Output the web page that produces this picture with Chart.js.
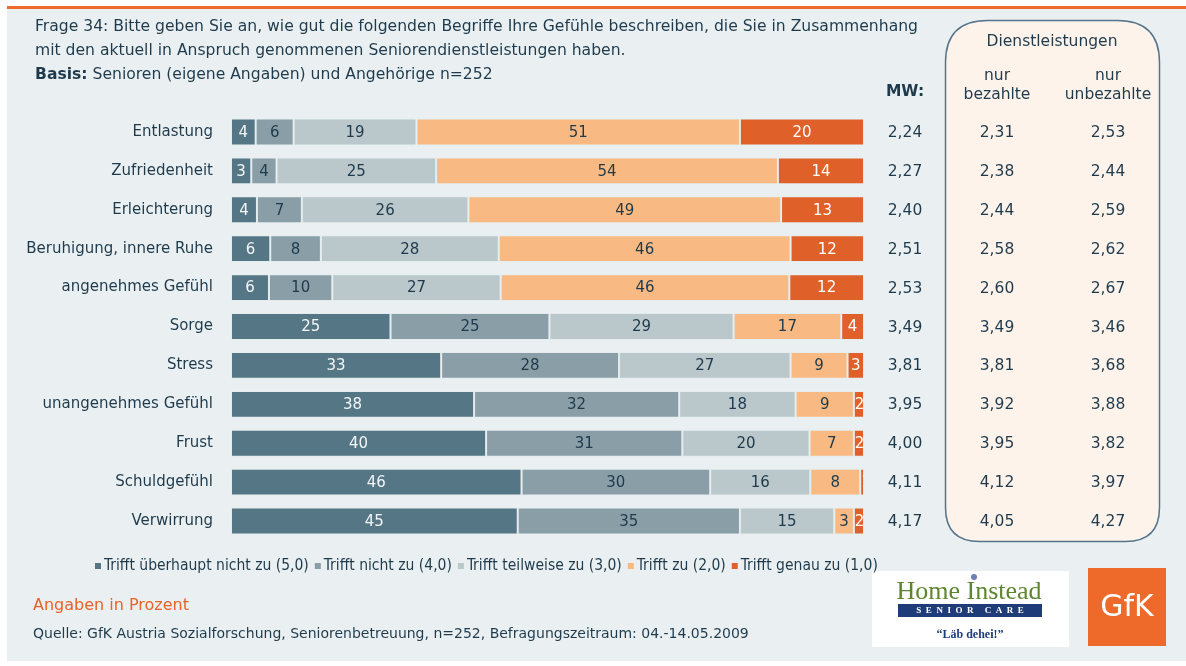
<!DOCTYPE html>
<html>
<head>
<meta charset="utf-8">
<script src="https://cdn.jsdelivr.net/npm/chart.js@4.4.1/dist/chart.umd.min.js"></script>
<style>
html,body{margin:0;padding:0;background:#fff;}
canvas{display:block;}
</style>
</head>
<body>
<canvas id="c" width="1186" height="666"></canvas>
<script>
// ---------- DATA ----------
const categories = ["Entlastung","Zufriedenheit","Erleichterung","Beruhigung, innere Ruhe","angenehmes Gefühl","Sorge","Stress","unangenehmes Gefühl","Frust","Schuldgefühl","Verwirrung"];
const seriesNames = ["Trifft überhaupt nicht zu (5,0)","Trifft nicht zu (4,0)","Trifft teilweise zu (3,0)","Trifft zu (2,0)","Trifft genau zu (1,0)"];
const s5 = [3.9,3.2,4.1,6.2,6.0,25.2,33.2,38.4,40.3,45.9,45.3];
const s4 = [6.0,4.0,7.1,8.0,10.0,25.1,28.1,32.4,31.0,29.8,35.1];
const s3 = [19.4,25.2,26.3,28.1,26.6,29.1,27.1,18.4,20.1,15.8,14.9];
const s2 = [51.1,54.0,49.4,46.1,45.6,17.0,9.0,9.2,7.0,7.9,3.1];
const s1 = [19.6,13.6,13.1,11.6,11.8,3.6,2.6,1.6,1.6,0.6,1.6];
const mw = [2.24,2.27,2.40,2.51,2.53,3.49,3.81,3.95,4.00,4.11,4.17];
const mwBezahlt = [2.31,2.38,2.44,2.58,2.60,3.49,3.81,3.92,3.95,4.12,4.05];
const mwUnbezahlt = [2.53,2.44,2.59,2.62,2.67,3.46,3.68,3.88,3.82,3.97,4.27];

// ---------- STYLE ----------
const colors = ["#557785","#8A9EA7","#BAC7CB","#F8BA82","#E0602A"];
const labelColors = ["#F2F6F7","#1E3A4C","#1E3A4C","#1E3A4C","#FFFFFF"];
const TXT = "#1E3A4C";
const FONT = "'DejaVu Sans', Verdana, sans-serif";
const FONT_C = "'DejaVu Sans Condensed', 'Liberation Sans Narrow', sans-serif";
const fmt = v => v.toFixed(2).replace('.', ',');

function roundRect(ctx, x, y, w, h, rt, rb) {
  ctx.beginPath();
  ctx.moveTo(x + rt, y);
  ctx.lineTo(x + w - rt, y);
  ctx.quadraticCurveTo(x + w, y, x + w, y + rt);
  ctx.lineTo(x + w, y + h - rb);
  ctx.quadraticCurveTo(x + w, y + h, x + w - rb, y + h);
  ctx.lineTo(x + rb, y + h);
  ctx.quadraticCurveTo(x, y + h, x, y + h - rb);
  ctx.lineTo(x, y + rt);
  ctx.quadraticCurveTo(x, y, x + rt, y);
  ctx.closePath();
}

const backdrop = {
  id: 'backdrop',
  beforeDraw(chart) {
    const ctx = chart.ctx;
    ctx.save();
    ctx.fillStyle = '#FFFFFF';
    ctx.fillRect(0, 0, 1186, 666);
    ctx.fillStyle = '#EAF0F1';
    ctx.fillRect(7, 9, 1179, 652);
    ctx.fillStyle = '#EE6B2D';
    ctx.fillRect(7, 6, 1179, 3);
    // panel
    roundRect(ctx, 945.5, 20.5, 214, 521, 42, 34);
    ctx.fillStyle = '#FDF3EA';
    ctx.fill();
    ctx.lineWidth = 1.5;
    ctx.strokeStyle = '#56748C';
    ctx.stroke();
    ctx.restore();
  }
};

const segLabels = {
  id: 'segLabels',
  afterDatasetsDraw(chart) {
    const ctx = chart.ctx;
    ctx.save();
    ctx.font = "15px " + FONT;
    ctx.textAlign = 'center';
    ctx.textBaseline = 'middle';
    chart.data.datasets.forEach((ds, i) => {
      const meta = chart.getDatasetMeta(i);
      meta.data.forEach((bar, j) => {
        const p = bar.getProps(['x', 'base', 'y', 'height'], true);
        const l = Math.min(p.x, p.base), r = Math.max(p.x, p.base);
        ctx.save();
        ctx.beginPath();
        ctx.rect(l + 1, p.y - p.height / 2, r - l - 1, p.height);
        ctx.clip();
        ctx.fillStyle = labelColors[i];
        const txt = String(Math.round(ds.data[j]));
        let cx = (l + r) / 2;
        const w = ctx.measureText(txt).width;
        if (w > r - l - 2) cx = l + 1 + w / 2;
        ctx.fillText(txt, cx, p.y + 1);
        ctx.restore();
      });
    });
    ctx.restore();
  }
};

const extras = {
  id: 'extras',
  afterDraw(chart) {
    const ctx = chart.ctx;
    const yScale = chart.scales.y;
    ctx.save();
    ctx.fillStyle = TXT;
    ctx.textBaseline = 'middle';
    // title
    ctx.textAlign = 'left';
    ctx.font = "15.6px " + FONT;
    ctx.fillText("Frage 34: Bitte geben Sie an, wie gut die folgenden Begriffe Ihre Gefühle beschreiben, die Sie in Zusammenhang", 35, 27);
    ctx.fillText("mit den aktuell in Anspruch genommenen Seniorendienstleistungen haben.", 35, 51);
    ctx.font = "bold 15.6px " + FONT;
    ctx.fillText("Basis:", 35, 75);
    const bw = ctx.measureText("Basis:").width;
    ctx.font = "15.6px " + FONT;
    ctx.fillText(" Senioren (eigene Angaben) und Angehörige n=252", 35 + bw, 75);
    // MW header
    ctx.textAlign = 'center';
    ctx.font = "bold 15.5px " + FONT;
    ctx.fillText("MW:", 905, 92);
    ctx.font = "15.5px " + FONT;
    ctx.fillText("Dienstleistungen", 1052, 42);
    ctx.fillText("nur", 997, 76);
    ctx.fillText("bezahlte", 997, 95);
    ctx.fillText("nur", 1108, 76);
    ctx.fillText("unbezahlte", 1108, 95);
    // values per row
    categories.forEach((c, i) => {
      const y = yScale.getPixelForValue(i) + 1;
      ctx.fillText(fmt(mw[i]), 905, y);
      ctx.fillText(fmt(mwBezahlt[i]), 997, y);
      ctx.fillText(fmt(mwUnbezahlt[i]), 1108, y);
    });
    // Home Instead logo
    ctx.fillStyle = '#FFFFFF';
    ctx.fillRect(872, 571, 197, 76);
    ctx.textAlign = 'center';
    ctx.fillStyle = '#5E8530';
    ctx.font = "26px 'Liberation Serif', serif";
    ctx.fillText("Home Instead", 969, 592);
    ctx.fillStyle = '#6A7FB8';
    ctx.beginPath(); ctx.arc(974, 577, 3, 0, Math.PI * 2); ctx.fill();
    ctx.fillStyle = '#1E3C78';
    ctx.fillRect(898, 604, 144, 13);
    ctx.fillStyle = '#FFFFFF';
    ctx.font = "bold 9px 'Liberation Serif', serif";
    ctx.fillText("S  E  N  I  O  R     C  A  R  E", 970, 611);
    ctx.fillStyle = '#1E3C78';
    ctx.font = "bold 12px 'Liberation Serif', serif";
    ctx.fillText("\u201CLäb dehei!\u201D", 970, 635);
    // GfK logo
    ctx.fillStyle = '#EE6A2A';
    ctx.fillRect(1088, 568, 78, 78);
    ctx.fillStyle = '#FFFFFF';
    ctx.font = "30px " + FONT;
    ctx.fillText("GfK", 1127, 608);
    // legend
    ctx.textAlign = 'left';
    ctx.font = "15.5px " + FONT_C;
    let lx = 95;
    const ly = 566;
    chart.data.datasets.forEach((ds, i) => {
      ctx.fillStyle = ds.backgroundColor;
      ctx.fillRect(lx, ly - 3, 6, 6);
      lx += 9;
      ctx.fillStyle = TXT;
      ctx.fillText(ds.label, lx, ly);
      lx += ctx.measureText(ds.label).width + 6;
    });
    // footer
    ctx.fillStyle = '#E8622A';
    ctx.font = "16px " + FONT;
    ctx.fillText("Angaben in Prozent", 33, 606);
    ctx.fillStyle = TXT;
    ctx.font = "14px " + FONT;
    ctx.fillText("Quelle: GfK Austria Sozialforschung, Seniorenbetreuung, n=252, Befragungszeitraum: 04.-14.05.2009", 33, 634);
    ctx.restore();
  }
};

const datasets = [s5, s4, s3, s2, s1].map((d, i) => ({
  label: seriesNames[i],
  data: d,
  backgroundColor: colors[i],
  borderColor: '#E4ECEE',
  borderWidth: 1,
  borderSkipped: false,
  barPercentage: 1,
  categoryPercentage: 0.69
}));

new Chart(document.getElementById('c'), {
  type: 'bar',
  data: { labels: categories, datasets },
  options: {
    indexAxis: 'y',
    responsive: false,
    animation: false,
    devicePixelRatio: 1,
    layout: { padding: { left: 0, right: 322, top: 112.5, bottom: 125.5 } },
    plugins: { legend: { display: false }, tooltip: { enabled: false } },
    scales: {
      x: { stacked: true, min: 0, max: 100, display: false },
      y: {
        stacked: true,
        grid: { display: false },
        border: { display: false },
        ticks: { color: TXT, font: { family: FONT, size: 15 }, padding: 10 },
        afterFit(scale) { scale.width = 231; }
      }
    }
  },
  plugins: [backdrop, segLabels, extras]
});
</script>
</body>
</html>
